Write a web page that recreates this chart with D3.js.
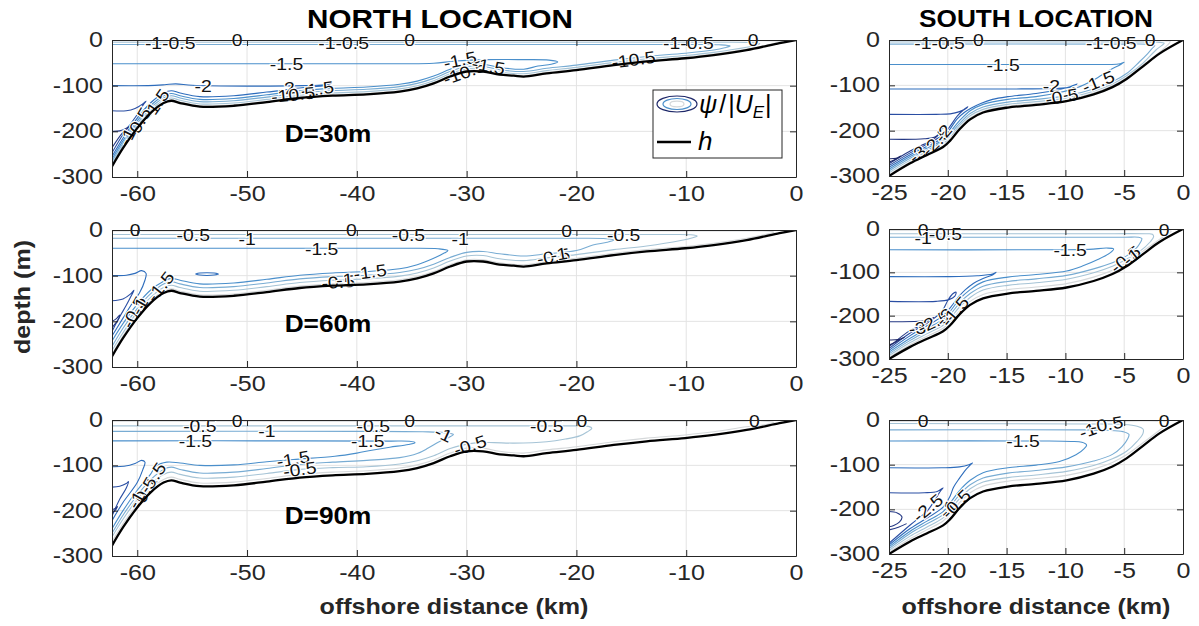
<!DOCTYPE html>
<html>
<head>
<meta charset="utf-8">
<script src="https://cdn.jsdelivr.net/npm/d3@7/dist/d3.min.js"></script>
<style>
  html, body { margin: 0; padding: 0; background: #fff; }
  svg { display: block; }
  text { font-family: "Liberation Sans", Arial, Helvetica, sans-serif; }
</style>
</head>
<body>
<svg id="fig" width="1199" height="626"></svg>
<script>
// ---------- tick values ----------
const northTicks = [-60, -50, -40, -30, -20, -10, 0];
const southTicks = [-25, -20, -15, -10, -5, 0];
const depthTicks = [0, -100, -200, -300];

// ---------- contour levels of psi/|U_E| and their colours ----------
const levels = [0, -0.5, -1, -1.5, -2, -2.5, -3, -3.5];
const levelColors = ["#d5d8da", "#a6c4d6", "#78acd3", "#4a8fcb", "#2d6cbc", "#2a4ea3", "#243884", "#1e2869"];

// ---------- bottom depth h (km offshore, m) ----------
const northX = [-62.3, -61.3, -60, -58.8, -57.6, -56.9, -56.1, -54.3, -51.2, -48.2, -45.2, -42.2, -39.1, -36.1, -34.5, -33, -31.5, -30, -28.5, -27, -25.7, -24.8, -22.7, -20, -16.6, -13.6, -10.1, -7.5, -4.5, -1.5, 0];
const northH = [277, 237, 193, 160, 138, 133, 138, 146, 144, 136, 127, 122, 119, 113, 106, 95, 80, 69, 69, 76, 78, 80, 73, 66, 55, 47, 40, 33, 22, 7, 0];
const southX = [-25, -23.2, -21.8, -20.4, -19.8, -19, -18.1, -17, -14.9, -12.5, -9.9, -7.6, -6, -4.8, -3.4, -2, 0];
const southH = [300, 272, 254, 236, 222, 197, 175, 160, 149, 143, 135, 120, 104, 86, 58, 30, 0];

// ---------- contour lines: [level, [[km, depth m], ...]] ----------
const northD30Lines = [
  [0, [[-62.3,1.5],[-30,1.5],[-5,1.5],[-1.8,2],[-1.2,4],[-1.5,5],[-4.5,20],[-7.5,31],[-10.1,38],[-13.6,45],[-16.6,53],[-20,64],[-22.7,71],[-24.8,78],[-27,74],[-28.5,67],[-30,67],[-31.5,78],[-33,93],[-34.5,104],[-36.1,111],[-39.1,117],[-42.2,120],[-45.2,125],[-48.2,134],[-51.2,142],[-54.3,144],[-56.1,136],[-56.9,131],[-57.6,136],[-58.8,158],[-60,191],[-61.3,235],[-62.3,275]]],
  [-0.5, [[-62.3,5],[-30,5],[-8,5],[-4.2,5.5],[-3.3,8],[-3.6,11],[-4.5,16],[-7.5,27],[-10.1,34],[-13.6,41],[-16.6,49],[-20,60],[-22.7,67],[-24.8,74],[-27,70],[-28.5,63],[-30,63],[-31.5,74],[-33,89],[-34.5,100],[-36.1,107],[-39.1,113],[-42.2,116],[-45.2,121],[-48.2,130],[-51.2,138],[-54.3,140],[-56.1,132],[-56.9,127],[-57.6,132],[-58.8,154],[-60,187],[-61.3,231],[-62.3,271]]],
  [-1, [[-62.3,10],[-30,10],[-10,10],[-7,10.5],[-6,13],[-6.5,17],[-7.5,22],[-10.1,29],[-13.6,36],[-16.6,44],[-20,55],[-22.7,62],[-24.8,69],[-27,65],[-28.5,58],[-30,58],[-31.5,69],[-33,84],[-34.5,95],[-36.1,102],[-39.1,108],[-42.2,111],[-45.2,116],[-48.2,125],[-51.2,133],[-54.3,135],[-56.1,127],[-56.9,122],[-57.6,127],[-58.8,149],[-60,182],[-61.3,226],[-62.3,266]]],
  [-1.5, [[-62.3,52],[-45,52],[-36,52],[-33,51],[-31,46],[-28,43],[-25,43],[-22.5,44],[-21.7,48],[-22.3,53],[-23.5,57],[-24.8,64],[-27,60],[-28.5,53],[-30,53],[-31.5,64],[-33,79],[-34.5,90],[-36.1,97],[-39.1,103],[-42.2,106],[-45.2,111],[-48.2,120],[-51.2,128],[-54.3,130],[-56.1,122],[-56.9,117],[-57.6,122],[-58.8,144],[-60,177],[-61.3,221],[-62.3,261]]],
  [-2, [[-62.3,100],[-59,100],[-57.5,98],[-56.5,96],[-55,99],[-50,101],[-45,100],[-43,98],[-42.3,94],[-42.8,99],[-45.2,105],[-48.2,114],[-51.2,122],[-54.3,124],[-56.1,116],[-56.9,111],[-57.6,116],[-58.8,138],[-60,171],[-61.3,215],[-62.3,255]]],
  [-2.5, [[-62.3,155],[-61,155],[-60.2,150],[-59.5,140],[-59.2,134],[-59.4,140],[-60,163],[-61.3,207],[-62.3,247]]],
  [-3, [[-62.3,200],[-61.6,199],[-61,193],[-60.7,188],[-60.9,194],[-61.4,205],[-62.3,236]]]
];
const northD30Labels = [
  ["-1-0.5", -57.0, 6, 0], ["0", -50.9, 1, 0], ["-1.5", -46.4, 53, 0], ["-2", -54.0, 101, 0],
  ["-2", -46.4, 106, -8], ["-1.5", -43.6, 107, -8], ["-10.5", -45.8, 120, -6],
  ["-1-0.5", -41.2, 6, 0], ["0", -35.2, 1, 0], ["-1.5", -30.6, 44, -12], ["-10.5", -30.2, 71, -20],
  ["-1.5", -28.0, 57, 10], ["-1-0.5", -9.8, 6, 0], ["0", -3.9, 1, 0], ["-10.5", -14.8, 43, -8],
  ["-1.5", -58.3, 141, -55], ["-0.5", -59.9, 182, -60], ["-1", -60.9, 212, -62]
];

const northD60Lines = [
  [0, [[-62.3,2],[-30,2],[-5,2],[-2.5,2.5],[-2.0,5],[-2.6,9],[-4.5,18],[-7.5,29],[-10.1,36],[-13.6,43],[-16.6,51],[-20,62],[-22.7,69],[-24.8,76],[-27,72],[-28.5,65],[-30,65],[-31.5,76],[-33,91],[-34.5,102],[-36.1,109],[-39.1,115],[-42.2,118],[-45.2,123],[-48.2,132],[-51.2,140],[-54.3,142],[-56.1,134],[-56.9,129],[-57.6,134],[-58.8,155],[-60,188],[-61.3,232],[-62.3,272]]],
  [-0.5, [[-62.3,10],[-30,10],[-12,10],[-9.6,10.5],[-9.0,13],[-9.4,17],[-10.5,23],[-13.6,35],[-16.6,43],[-20,54],[-22.7,61],[-24.8,67],[-27,63],[-28.5,56],[-30,57],[-31.5,68],[-33,83],[-34.5,94],[-36.1,101],[-39.1,107],[-42.2,110],[-45.2,115],[-48.2,124],[-51.2,132],[-54.3,134],[-56.1,126],[-56.9,121],[-57.6,126],[-58.8,148],[-60,180],[-61.3,225],[-62.3,264]]],
  [-1, [[-62.3,18],[-30,18],[-20,18],[-17.3,19],[-16.6,22],[-17.2,27],[-18.5,33],[-20,45],[-22.7,52],[-24.8,57],[-27,52],[-28.5,47],[-30,49],[-31.5,60],[-33,75],[-34.5,86],[-36.1,93],[-39.1,99],[-42.2,102],[-45.2,107],[-48.2,116],[-51.2,124],[-54.3,126],[-56.1,118],[-56.9,113],[-57.6,118],[-58.8,140],[-60,172],[-61.3,215],[-62.3,255]]],
  [-1.5, [[-62.3,40],[-45,40],[-36,40],[-32.6,41],[-31.7,45],[-32.0,50],[-33,62],[-34.5,76],[-36.1,85],[-39.1,91],[-42.2,94],[-45.2,99],[-48.2,108],[-51.2,116],[-54.3,118],[-56.1,110],[-56.9,106],[-57.6,112],[-58.8,132],[-60,163],[-61.3,205],[-62.3,243]]],
  [-2, [[-62.3,100],[-61,99],[-60.2,95],[-59.6,89],[-59.2,95],[-59.3,110],[-59.8,138],[-60.5,162],[-61.3,193],[-62.3,232]]],
  [-2, [[-54.7,96.5],[-54.3,94.3],[-53.65,93.5],[-53,94.3],[-52.6,96.5],[-53,98.7],[-53.65,99.5],[-54.3,98.7],[-54.7,96.5]]],
  [-2.5, [[-62.3,155],[-61.3,151],[-60.6,140],[-60.3,132],[-60.5,142],[-61.0,165],[-61.6,190],[-62.3,222]]],
  [-3, [[-62.3,200],[-61.9,194],[-61.6,186],[-61.7,195],[-62.0,205],[-62.3,214]]]
];
const northD60Labels = [
  ["0", -60.2, 1, 0], ["-0.5", -54.9, 11, 0], ["-1", -50, 19, 0], ["-1.5", -43.2, 41, 0],
  ["0", -40.5, 1, 0], ["-0.5", -35.3, 11, 0], ["-1", -30.6, 19, 0], ["-1.5", -38.8, 92, -8],
  ["-0.5", -41.7, 114, -4], ["-1", -41.1, 109, -4], ["0", -20.9, 2, 0], ["-0.5", -15.7, 11, 0],
  ["-0.5", -22.1, 58, -10], ["-1", -21.6, 53, -10], ["-1.5", -57.9, 124, -52],
  ["-0.5", -60.3, 180, -62], ["-1", -59.8, 167, -60]
];

const northD90Lines = [
  [0, [[-62.3,2.5],[-30,2.5],[-5,2.5],[-2.6,3],[-2.0,6],[-2.8,10],[-4.5,15],[-7.5,26],[-10.1,33],[-13.6,40],[-16.6,48],[-20,59],[-22.7,66],[-24.8,73],[-27,69],[-28.5,62],[-30,62],[-31.5,73],[-33,88],[-34.5,99],[-36.1,106],[-39.1,112],[-42.2,115],[-45.2,120],[-48.2,129],[-51.2,137],[-54.3,139],[-56.1,131],[-56.9,126],[-57.6,131],[-58.8,152],[-60,186],[-61.3,229],[-62.3,268]]],
  [-0.5, [[-62.3,13],[-30,13],[-20,13],[-18.9,14],[-18.6,18],[-19.0,26],[-19.7,35],[-21,42],[-22.7,48],[-25.7,51],[-27.5,50],[-29,50],[-30.5,56],[-31.5,63],[-33,79],[-34.5,90],[-36.1,97],[-39.1,103],[-42.2,105],[-45.2,109],[-48.2,118],[-51.2,126],[-54.3,128],[-56.1,120],[-56.9,115],[-57.6,120],[-58.8,142],[-60,175],[-61.3,219],[-62.3,258]]],
  [-1, [[-62.3,25],[-40,25],[-34,26],[-32,28],[-31.2,32],[-31.6,38],[-32.5,48],[-33.5,62],[-34.5,74],[-36.1,83],[-39.1,89],[-42.2,93],[-45.2,98],[-48.2,107],[-51.2,115],[-54.3,117],[-56.1,109],[-56.9,104],[-57.6,109],[-58.8,132],[-60,166],[-61.3,210],[-62.3,250]]],
  [-1.5, [[-62.3,46],[-45,46],[-37,46.5],[-35.2,47],[-34.7,50],[-35.3,54],[-37,60],[-38.5,66],[-40,73],[-42,80],[-45.8,87],[-48.2,92],[-51.2,99],[-54.3,100],[-56.1,95],[-57.3,93],[-58.3,102],[-58.8,120],[-60,155],[-61.3,200],[-62.3,240]]],
  [-2, [[-62.3,103],[-61.2,102],[-60.2,96],[-59.6,89],[-59.3,93],[-59.5,110],[-60,138],[-61.3,182],[-62.3,222]]],
  [-2.5, [[-62.3,148],[-61.6,146],[-61.0,140],[-60.8,136],[-61.0,150],[-61.6,175],[-62.3,212]]],
  [-3, [[-62.3,198],[-62.0,195],[-61.8,191],[-62.0,199],[-62.3,206]]]
];
const northD90Labels = [
  ["-0.5", -54.3, 13, 0], ["0", -50.9, 2, 0], ["-1", -48.2, 25, 0], ["-1.5", -54.7, 46, 0],
  ["-0.5", -38.5, 13, 0], ["0", -35.2, 2, 0], ["-1.5", -39, 46, 0], ["-1", -32.1, 31, 25],
  ["-0.5", -29.7, 56, -18], ["-1.5", -45.8, 86, -10], ["-0.5", -45.2, 109, -8],
  ["-0.5", -22.7, 14, 0], ["0", -19.5, 3, 0], ["0", -3.8, 3, 0],
  ["-1.5", -58.6, 128, -55], ["-0.5", -59.4, 160, -60], ["-1", -60.1, 176, -60]
];

const southD30Lines = [
  [0, [[-25,1.5],[-5,1.5],[-1.6,1.8],[-1.1,3],[-1.2,8],[-2,27],[-3.4,55],[-4.8,83],[-6,101],[-7.6,117],[-9.9,132],[-12.5,140],[-14.9,146],[-17,157],[-18.1,172],[-19,194],[-19.8,219],[-20.4,233],[-21.8,251],[-23.2,269],[-25,297]]],
  [-0.5, [[-25,4.5],[-5,4.5],[-2.2,5],[-1.6,7],[-1.8,12],[-2.3,22],[-3.4,51],[-4.8,79],[-6,97],[-7.6,113],[-9.9,128],[-12.5,136],[-14.9,142],[-17,153],[-18.1,167],[-19,189],[-19.8,214],[-20.4,229],[-21.8,247],[-23.2,265],[-25,293]]],
  [-1, [[-25,9],[-5,9],[-2.9,9.5],[-2.4,12],[-2.6,18],[-3.0,30],[-3.7,48],[-4.8,74],[-6,92],[-7.6,108],[-9.9,123],[-12.5,131],[-14.9,137],[-17,148],[-18.1,162],[-19,184],[-19.8,208],[-20.4,224],[-21.8,243],[-23.2,261],[-25,289]]],
  [-1.5, [[-25,54],[-15,54],[-7,54],[-5.5,53],[-5.0,49],[-5.3,54],[-6.2,66],[-7.6,88],[-9.1,106],[-10.5,116],[-12.5,125],[-14.9,131],[-17,142],[-18.1,156],[-19,178],[-19.8,203],[-20.4,220],[-21.8,239],[-23.2,257],[-25,285]]],
  [-2, [[-25,108],[-15,108],[-11,107],[-9.6,104],[-9.0,97],[-9.6,103],[-10.5,109],[-12.5,118],[-14.9,125],[-16.2,131],[-17.2,140],[-18,150],[-18.6,160],[-19.2,174],[-19.8,196],[-20.4,215],[-21.8,235],[-23.2,253],[-25,281]]],
  [-2.5, [[-25,164],[-21,164],[-19.8,163],[-19.0,158],[-18.4,150],[-18.3,147],[-18.7,155],[-19.2,168],[-19.8,190],[-20.4,209],[-21.8,230],[-23.2,249],[-25,277]]],
  [-3, [[-25,219],[-22,218],[-21.1,214],[-20.7,206],[-20.9,212],[-21.4,222],[-21.8,227],[-23.2,245],[-25,273]]],
  [-3.5, [[-25,262],[-24.4,261],[-24.0,256],[-24.2,260],[-24.6,265],[-25,269]]]
];
const southD30Labels = [
  ["-1-0.5", -20.7, 7, 0], ["0", -17.4, 1, 0], ["-1.5", -15.3, 55, 0], ["-1-0.5", -6.1, 7, 0],
  ["0", -2.8, 1, 0], ["-2", -11.2, 102, 0], ["-1.5", -7.2, 92, -22], ["-1", -9.5, 118, -12],
  ["-0.5", -10.3, 125, -10], ["-3", -22.6, 252, -40], ["-2.5", -21.0, 224, -45], ["-2", -20.4, 206, -50]
];

const southD60Lines = [
  [0, [[-25,2.5],[-5,2.5],[-1.5,2.5],[-1.0,5],[-1.3,12],[-2,24],[-3.4,51],[-4.8,78],[-6,95],[-7.6,111],[-9.9,126],[-12.5,134],[-14.9,140],[-17,151],[-18.1,167],[-19,189],[-19.8,214],[-20.4,229],[-21.8,248],[-23.2,267],[-25,296]]],
  [-0.5, [[-25,11],[-8,11],[-3.2,11],[-2.6,12],[-2.5,18],[-2.8,30],[-3.6,50],[-4.8,70],[-6,86],[-7.6,101],[-9.9,116],[-12.5,124],[-14.9,130],[-17,141],[-18.1,158],[-19,180],[-19.8,206],[-20.4,222],[-21.8,242],[-23.2,262],[-25,292]]],
  [-1, [[-25,19],[-5,19],[-3.8,19],[-3.5,22],[-3.6,30],[-4.0,45],[-4.8,62],[-6,78],[-7.6,92],[-9.9,107],[-12.5,115],[-14.9,121],[-17,132],[-18.1,149],[-19,171],[-19.8,198],[-20.4,215],[-21.8,236],[-23.2,257],[-25,288]]],
  [-1.5, [[-25,48],[-13,48],[-8,47],[-6.5,44],[-5.9,46],[-6.2,55],[-7.2,70],[-8.5,85],[-9.9,97],[-12.5,105],[-14.9,111],[-17,122],[-18.1,140],[-19,162],[-19.8,190],[-20.4,208],[-21.8,230],[-23.2,252],[-25,284]]],
  [-2, [[-25,110],[-20,110],[-17.5,108],[-16.2,104],[-15.9,100],[-16.2,106],[-17.0,114],[-17.8,125],[-18.5,140],[-19.0,154],[-19.8,182],[-20.4,200],[-21.8,224],[-23.2,246],[-25,280]]],
  [-2.5, [[-25,167],[-21,167],[-19.9,163],[-19.4,155],[-19.3,146],[-19.6,150],[-20.0,165],[-20.5,190],[-21.8,218],[-23.2,240],[-25,276]]],
  [-3, [[-25,214],[-22.5,213],[-21.6,210],[-21.2,204],[-21.5,208],[-22.2,222],[-23.2,234],[-25,272]]],
  [-3.5, [[-25,256],[-24.2,255],[-23.7,250],[-24.0,254],[-24.5,262],[-25,268]]]
];
const southD60Labels = [
  ["0", -22.1, 2, 0], ["-1", -22.1, 21, 0], ["-0.5", -20.2, 12, 0], ["0", -1.6, 2, 0],
  ["-1.5", -9.6, 48, 0], ["-0.5", -4.9, 70, -38], ["-1", -4.4, 64, -38],
  ["-3", -22.6, 229, -8], ["-2.5", -21.2, 214, -25], ["-2", -20.3, 203, -45], ["-1.5", -19.4, 190, -50]
];

const southD90Lines = [
  [0, [[-25,2.5],[-5,2.5],[-2,2.5],[-1.3,4],[-1.4,10],[-2,23],[-3.4,51],[-4.8,78],[-6,95],[-7.6,110],[-9.9,124],[-12.5,131],[-14.9,137],[-17,148],[-18.1,163],[-19,185],[-19.8,210],[-20.4,226],[-21.8,246],[-23.2,266],[-25,296]]],
  [-0.5, [[-25,8],[-8,9],[-5,10],[-3.9,14],[-3.4,20],[-3.4,30],[-3.9,48],[-4.8,70],[-6,87],[-7.6,102],[-9.9,115],[-12.5,123],[-14.9,129],[-17,139],[-18.1,154],[-19,176],[-19.8,202],[-20.4,219],[-21.8,240],[-23.2,260],[-25,292]]],
  [-1, [[-25,22],[-9,22],[-6.5,23],[-5.1,26],[-4.6,32],[-4.7,42],[-5.2,60],[-6,77],[-7.6,92],[-9.9,105],[-12.5,113],[-14.9,119],[-17,130],[-18.1,145],[-19,167],[-19.8,194],[-20.4,212],[-21.8,233],[-23.2,254],[-25,288]]],
  [-1.5, [[-25,47],[-12,47],[-9.5,48],[-8.6,50],[-8.2,56],[-8.4,64],[-9.1,78],[-10.5,93],[-12.5,101],[-14.9,107],[-17,118],[-18.1,135],[-19,158],[-19.8,186],[-20.4,205],[-21.8,227],[-23.2,249],[-25,284]]],
  [-2, [[-25,107],[-20.5,107],[-19,105],[-18.2,100],[-17.9,96],[-18.1,101],[-18.5,112],[-19.0,130],[-19.5,150],[-19.8,170],[-20.4,195],[-21.8,220],[-23.2,243],[-25,280]]],
  [-2.5, [[-25,163],[-22,163],[-20.9,160],[-20.4,152],[-20.6,158],[-21.0,175],[-21.5,195],[-21.8,205],[-23.2,235],[-25,276]]],
  [-3, [[-25,205],[-24.3,208],[-23.9,217],[-24.1,228],[-24.6,236],[-25,239]]],
  [-3, [[-25,246],[-24.2,240],[-23.5,232]]]
];
const southD90Labels = [
  ["0", -22.1, 2, 0], ["0", -1.6, 2, 0], ["-1.5", -13.6, 47, 0], ["-1", -8.1, 24, -20],
  ["-0.5", -6.5, 10, -10], ["-2.5", -21.7, 197, -40], ["-1", -20.0, 199, -45], ["-0.5", -19.3, 188, -45]
];

// ---------- panel layout ----------
const panels = [
  { box: [112, 40, 796, 177], dom: [-62.3, 0], ticks: northTicks, hx: northX, hh: northH, lines: northD30Lines, labels: northD30Labels, tag: "D=30m", tagAt: [328, 134] },
  { box: [112, 230, 796, 367], dom: [-62.3, 0], ticks: northTicks, hx: northX, hh: northH, lines: northD60Lines, labels: northD60Labels, tag: "D=60m", tagAt: [328, 324] },
  { box: [112, 420, 796, 556], dom: [-62.3, 0], ticks: northTicks, hx: northX, hh: northH, lines: northD90Lines, labels: northD90Labels, tag: "D=90m", tagAt: [328, 516] },
  { box: [889, 40, 1183, 176], dom: [-25, 0], ticks: southTicks, hx: southX, hh: southH, lines: southD30Lines, labels: southD30Labels },
  { box: [889, 229, 1183, 359], dom: [-25, 0], ticks: southTicks, hx: southX, hh: southH, lines: southD60Lines, labels: southD60Labels },
  { box: [889, 420, 1183, 554], dom: [-25, 0], ticks: southTicks, hx: southX, hh: southH, lines: southD90Lines, labels: southD90Labels }
];

const SX = 1.14;              // horizontal text stretch
const AX = "#262626";
const levelColor = d3.scaleOrdinal().domain(levels).range(levelColors);
const svg = d3.select("#fig");

function stretchedText(g, px, py, str, size, opts = {}) {
  const rot = opts.rotate || 0;
  return g.append("text")
    .attr("transform", `translate(${px},${py}) rotate(${rot}) scale(${SX},1)`)
    .attr("text-anchor", opts.anchor || "middle")
    .attr("dy", opts.dy || "0.35em")
    .attr("font-size", size)
    .attr("font-weight", opts.weight || "normal")
    .attr("fill", opts.fill || "#000")
    .text(str);
}

panels.forEach((p, i) => {
  const [x0, y0, x1, y1] = p.box;
  const x = d3.scaleLinear().domain(p.dom).range([x0, x1]);
  const y = d3.scaleLinear().domain([-300, 0]).range([y1, y0]);
  const g = svg.append("g");
  const cid = "clip" + i;
  svg.append("clipPath").attr("id", cid).append("rect")
    .attr("x", x0).attr("y", y0).attr("width", x1 - x0).attr("height", y1 - y0);

  // grid
  const grid = g.append("g").attr("stroke", "#e3e3e3").attr("stroke-width", 1);
  grid.selectAll("line.v").data(p.ticks.filter(t => t > p.dom[0] && t < p.dom[1])).join("line")
    .attr("x1", d => x(d)).attr("x2", d => x(d)).attr("y1", y0).attr("y2", y1);
  grid.selectAll("line.h").data(depthTicks.filter(t => t > -300 && t < 0)).join("line")
    .attr("x1", x0).attr("x2", x1).attr("y1", d => y(d)).attr("y2", d => y(d));

  // streamfunction contours
  const line = d3.line().x(d => x(d[0])).y(d => y(-d[1])).curve(d3.curveCatmullRom.alpha(0.5));
  g.append("g").attr("clip-path", `url(#${cid})`)
    .selectAll("path").data(p.lines).join("path")
    .attr("d", d => line(d[1]))
    .attr("fill", "none")
    .attr("stroke", d => levelColor(d[0]))
    .attr("stroke-width", 1.1);

  // contour labels
  const lab = g.append("g");
  p.labels.forEach(([t, lx, ld, rot]) => {
    stretchedText(lab, x(lx), y(-ld), t, 17, { rotate: rot, fill: "#111" })
      .attr("stroke", "#fff").attr("stroke-width", 2.2).attr("paint-order", "stroke");
  });

  // bottom depth
  g.append("path").datum(d3.zip(p.hx, p.hh))
    .attr("clip-path", `url(#${cid})`)
    .attr("d", line)
    .attr("fill", "none").attr("stroke", "#000").attr("stroke-width", 2.3);

  // axes (ticks pointing inward on all four sides)
  const fmt = d => String(d);
  const axB = g.append("g").attr("transform", `translate(0,${y1})`)
    .call(d3.axisBottom(x).tickValues(p.ticks).tickSize(-6).tickSizeOuter(0).tickPadding(8).tickFormat(fmt));
  const axT = g.append("g").attr("transform", `translate(0,${y0})`)
    .call(d3.axisTop(x).tickValues(p.ticks).tickSize(-6).tickSizeOuter(0).tickFormat(""));
  const axL = g.append("g").attr("transform", `translate(${x0},0)`)
    .call(d3.axisLeft(y).tickValues(depthTicks).tickSize(-6).tickSizeOuter(0).tickPadding(9).tickFormat(fmt));
  const axR = g.append("g").attr("transform", `translate(${x1},0)`)
    .call(d3.axisRight(y).tickValues(depthTicks).tickSize(-6).tickSizeOuter(0).tickFormat(""));
  [axB, axT, axL, axR].forEach(a => {
    a.select(".domain").attr("stroke", AX).attr("stroke-width", 1);
    a.selectAll(".tick line").attr("stroke", AX);
    a.selectAll(".tick text").attr("fill", AX).attr("font-size", 22)
      .attr("font-family", "'Liberation Sans', Arial, sans-serif");
  });
  axB.selectAll(".tick text").attr("transform", `scale(${SX},1)`);
  axL.selectAll(".tick text").attr("x", -9 / SX).attr("dy", "0.3em").attr("transform", `scale(${SX},1)`);

  if (p.tag) stretchedText(g, p.tagAt[0], p.tagAt[1], p.tag, 23, { weight: "bold" });
});

// ---------- legend (top-left panel) ----------
const leg = svg.append("g");
leg.append("rect").attr("x", 653).attr("y", 90).attr("width", 129).attr("height", 68)
  .attr("fill", "#fff").attr("stroke", AX).attr("stroke-width", 1);
[[20, 8, levelColors[7]], [14, 5.5, levelColors[3]], [7, 2.8, levelColors[0]]].forEach(([rx, ry, c]) => {
  leg.append("ellipse").attr("cx", 677).attr("cy", 104).attr("rx", rx).attr("ry", ry)
    .attr("fill", "none").attr("stroke", c).attr("stroke-width", 1.2);
});
const psi = leg.append("text").attr("x", 699).attr("y", 113)
  .attr("font-family", "'Liberation Serif', 'DejaVu Serif', serif").attr("font-size", 25).attr("fill", "#000");
psi.append("tspan").attr("font-style", "italic").text("ψ");
psi.append("tspan").attr("dx", 2).text("/");
psi.append("tspan").attr("dx", 2).text("|");
psi.append("tspan").attr("font-style", "italic").text("U");
psi.append("tspan").attr("font-style", "italic").attr("font-size", 17).attr("dy", 5).text("E");
psi.append("tspan").attr("dy", -5).attr("dx", 1).text("|");
leg.append("line").attr("x1", 657).attr("x2", 691).attr("y1", 142).attr("y2", 142)
  .attr("stroke", "#000").attr("stroke-width", 2.3);
leg.append("text").attr("x", 698).attr("y", 150)
  .attr("font-family", "'Liberation Serif', 'DejaVu Serif', serif").attr("font-size", 26)
  .attr("font-style", "italic").text("h");

// ---------- titles and axis labels ----------
const ann = svg.append("g");
stretchedText(ann, 440, 19, "NORTH LOCATION", 26, { weight: "bold" });
stretchedText(ann, 1036, 19, "SOUTH LOCATION", 23, { weight: "bold" });
stretchedText(ann, 454, 606, "offshore distance (km)", 22, { weight: "bold", fill: AX });
stretchedText(ann, 1036, 606, "offshore distance (km)", 22, { weight: "bold", fill: AX });
stretchedText(ann, 22, 297, "depth (m)", 22, { weight: "bold", fill: AX, rotate: -90 });
</script>
</body>
</html>
